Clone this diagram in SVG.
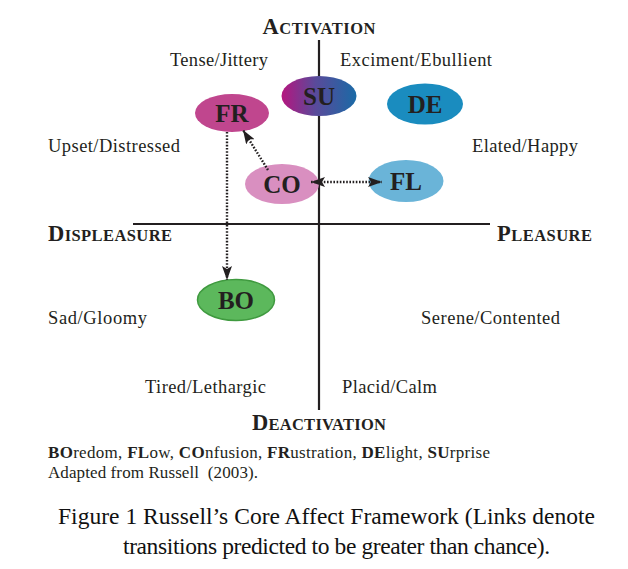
<svg xmlns="http://www.w3.org/2000/svg" width="628" height="569" viewBox="0 0 628 569">
<style>
.lbl{font-family:"Liberation Serif","Times New Roman",serif;font-size:18.5px;fill:#231f20}
.ax{font-family:"Liberation Serif","Times New Roman",serif;font-weight:bold;fill:#231f20;font-size:16.5px}
.ax .big{font-size:22.5px}
.node text{font-family:"Liberation Serif","Times New Roman",serif;font-weight:bold;font-size:25px;fill:#231f20;text-anchor:middle}
.leg{font-family:"Liberation Serif","Times New Roman",serif;font-size:17px;fill:#231f20}
.cap{font-family:"Liberation Serif","Times New Roman",serif;font-size:23.5px;fill:#111}
.conn{stroke:#231f20;stroke-width:2.4;stroke-dasharray:1.6 1.6;fill:none}
</style>
<defs>
<linearGradient id="suGrad" x1="0" y1="0" x2="1" y2="0">
<stop offset="0" stop-color="#b5167f"/>
<stop offset="0.45" stop-color="#5a4a9a"/>
<stop offset="1" stop-color="#1a6aa6"/>
</linearGradient>
<marker id="arr" viewBox="0 0 14 10" refX="14" refY="5" markerWidth="14" markerHeight="10" orient="auto-start-reverse" markerUnits="userSpaceOnUse">
<path d="M0,0 L14,5 L0,10 L3,5 z" fill="#231f20"/>
</marker>
</defs>
<rect width="628" height="569" fill="#fff"/>
<g id="axes" stroke="#231f20" stroke-width="2.2">
<line x1="319" y1="40" x2="319" y2="410"/>
<line x1="133" y1="224" x2="490" y2="224"/>
</g>
<g id="axis-labels">
<text class="ax" x="319" y="34" text-anchor="middle" textLength="113"><tspan class="big">A</tspan>CTIVATION</text>
<text class="ax" x="319" y="430" text-anchor="middle" textLength="134"><tspan class="big">D</tspan>EACTIVATION</text>
<text class="ax" x="48" y="241" textLength="124"><tspan class="big">D</tspan>ISPLEASURE</text>
<text class="ax" x="497" y="241" textLength="95"><tspan class="big">P</tspan>LEASURE</text>
</g>
<g id="quadrant-labels">
<text class="lbl" x="170" y="66" textLength="98">Tense/Jittery</text>
<text class="lbl" x="340" y="66" textLength="152">Exciment/Ebullient</text>
<text class="lbl" x="48" y="152" textLength="132">Upset/Distressed</text>
<text class="lbl" x="472" y="152" textLength="106">Elated/Happy</text>
<text class="lbl" x="48" y="324" textLength="99">Sad/Gloomy</text>
<text class="lbl" x="421" y="324" textLength="139">Serene/Contented</text>
<text class="lbl" x="145" y="393" textLength="121">Tired/Lethargic</text>
<text class="lbl" x="342" y="393" textLength="95">Placid/Calm</text>
</g>
<g id="nodes">
<g id="SU" class="node"><ellipse cx="319" cy="96" rx="37.5" ry="20" fill="url(#suGrad)"/><text x="319" y="105">SU</text></g>
<g id="DE" class="node"><ellipse cx="425" cy="104" rx="38" ry="20.5" fill="#1a8cbf"/><text x="425" y="113">DE</text></g>
<g id="FR" class="node"><ellipse cx="232" cy="113" rx="37" ry="19" fill="#c0468e"/><text x="232" y="122">FR</text></g>
<g id="CO" class="node"><ellipse cx="282" cy="184" rx="37" ry="20" fill="#d98fc0"/><text x="282" y="193">CO</text></g>
<g id="FL" class="node"><ellipse cx="406" cy="181" rx="37.5" ry="21" fill="#6ab4d8"/><text x="406" y="190">FL</text></g>
<g id="BO" class="node"><ellipse cx="236" cy="300" rx="38.5" ry="20.5" fill="#5cb85c" stroke="#3f9a3f" stroke-width="1.5"/><text x="236" y="309">BO</text></g>
</g>
<g id="connectors">
<line class="conn" x1="227" y1="132" x2="227" y2="280" marker-end="url(#arr)"/>
<line class="conn" x1="268" y1="170" x2="243" y2="130" marker-end="url(#arr)"/>
<line class="conn" x1="311" y1="182" x2="382" y2="182" marker-start="url(#arr)" marker-end="url(#arr)"/>
</g>
<g id="legend">
<text class="leg" x="48" y="458" textLength="442"><tspan font-weight="bold">BO</tspan>redom, <tspan font-weight="bold">FL</tspan>ow, <tspan font-weight="bold">CO</tspan>nfusion, <tspan font-weight="bold">FR</tspan>ustration, <tspan font-weight="bold">DE</tspan>light, <tspan font-weight="bold">SU</tspan>rprise</text>
<text class="leg" x="48" y="478" textLength="210">Adapted from Russell&#160; (2003).</text>
</g>
<g id="caption">
<text class="cap" x="58" y="524" textLength="537">Figure 1 Russell’s Core Affect Framework (Links denote</text>
<text class="cap" x="123" y="554" textLength="427">transitions predicted to be greater than chance).</text>
</g>
</svg>
